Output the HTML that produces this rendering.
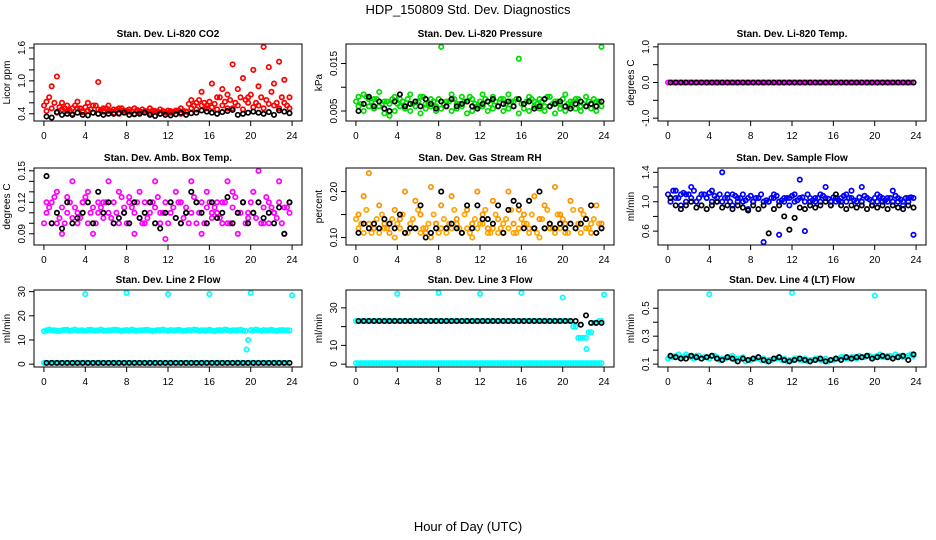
<!DOCTYPE html>
<html><head><meta charset="utf-8"><style>
body{margin:0;background:#fff;}
svg{display:block;font-family:"Liberation Sans",sans-serif;}
</style></head><body>
<svg id="c" width="936" height="540" viewBox="0 0 936 540">
<text x="468" y="14" text-anchor="middle" font-size="13">HDP_150809  Std. Dev. Diagnostics</text>
<text x="468" y="531" text-anchor="middle" font-size="13">Hour of Day (UTC)</text>
</svg>
<script>
const xTicks=[0,4,8,12,16,20,24];
// Panel 1 CO2
const co2Red=[.62,.9,1.08,.6,.55,.5,.62,.45,.6,.55,.98,.5,.55,.48,.5,.45,.48,.5,.45,.44,.5,.45,.48,.42,.45,.46,.5,.44,.65,.6,.8,.55,.95,.7,.85,.75,1.3,.85,1.05,.7,1.2,.9,1.62,1.25,.95,1.35,1.02,.7];
const co2Band=[.45,.5,.42,.48,.45,.4,.5,.43,.46,.42,.48,.44,.45,.42,.4,.46,.44,.4,.43,.45,.41,.44,.4,.43,.42,.45,.4,.44,.5,.48,.55,.5,.52,.48,.55,.5,.5,.55,.48,.6,.52,.55,.5,.58,.55,.5,.6,.5];
const co2Band2=[.55,.7,.6,.52,.5,.46,.55,.5,.52,.48,.55,.47,.5,.45,.47,.5,.46,.44,.47,.48,.45,.46,.44,.45,.46,.43,.46,.45,.58,.55,.65,.6,.62,.58,.7,.62,.65,.6,.7,.65,.75,.6,.7,.65,.8,.6,.7,.55];
const co2Black=[.35,.33,.43,.38,.4,.38,.42,.38,.37,.42,.4,.38,.4,.4,.41,.42,.38,.39,.4,.42,.38,.36,.4,.38,.37,.39,.42,.38,.41,.42,.46,.44,.42,.4,.43,.45,.47,.38,.4,.42,.44,.42,.4,.43,.38,.46,.44,.41];
// Panel 2 pressure
const presGreen=[.008,.0085,.006,.0075,.009,.007,.004,.008,.0075,.006,.0085,.007,.008,.0065,.0075,.006,.0185,.007,.0085,.0065,.008,.007,.0075,.006,.0085,.007,.008,.006,.0075,.0085,.007,.016,.0065,.008,.007,.0075,.006,.008,.007,.0065,.0085,.007,.0075,.006,.008,.0065,.007,.0185];
const presBand=[.006,.005,.0075,.0055,.006,.0045,.0065,.005,.006,.0055,.005,.006,.0045,.0055,.006,.005,.0055,.006,.005,.0055,.006,.0045,.005,.0055,.006,.005,.0055,.006,.005,.0055,.006,.0045,.0055,.005,.006,.0055,.005,.006,.0045,.0055,.005,.006,.0055,.005,.006,.0055,.005,.006];
const presBand2=[.007,.0065,.008,.007,.0075,.0065,.007,.0075,.0065,.007,.0075,.0065,.007,.008,.0065,.007,.0075,.0065,.007,.0075,.0065,.007,.008,.0065,.007,.0075,.0065,.007,.0075,.0065,.007,.0075,.0065,.007,.0075,.0065,.007,.008,.0065,.007,.0075,.0065,.007,.0075,.0065,.007,.0075,.007];
const presBlack=[.005,.0065,.008,.006,.007,.0055,.005,.007,.0085,.006,.0065,.007,.006,.0075,.0065,.0055,.007,.006,.0075,.006,.0065,.007,.006,.0055,.0065,.007,.0075,.006,.0065,.007,.006,.0075,.0065,.007,.0055,.006,.0075,.006,.0065,.007,.006,.0055,.0065,.007,.006,.0065,.006,.007];
// Panel 3 temp
const tempMag=[0,0,0,0,0,0,0,0,0,0,0,0,0,0,0,0,0,0,0,0,0,0,0,0,0,0,0,0,0,0,0,0,0,0,0,0,0,0,0,0,0,0,0,0,0,0,0,0];
const tempBlack=[0,0,0,0,0,0,0,0,0,0,0,0,0,0,0,0,0,0,0,0,0,0,0,0,0,0,0,0,0,0,0,0,0,0,0,0,0,0,0,0,0,0,0,0,0,0,0,0];
// Panel 4 amb temp
const ambMag=[.12,.1,.13,.09,.11,.14,.1,.12,.13,.09,.11,.12,.14,.1,.13,.11,.12,.09,.13,.1,.12,.14,.11,.085,.12,.13,.1,.11,.14,.12,.09,.13,.11,.12,.1,.14,.13,.09,.12,.11,.13,.15,.1,.12,.11,.14,.09,.12];
const ambBand=[.11,.12,.1,.115,.125,.105,.11,.12,.1,.115,.12,.105,.11,.12,.1,.115,.125,.11,.105,.12,.11,.115,.1,.12,.11,.105,.12,.115,.11,.1,.12,.115,.105,.11,.12,.1,.115,.11,.12,.105,.11,.12,.115,.1,.11,.12,.115,.11];
const ambBand2=[.1,.115,.125,.105,.1,.12,.115,.105,.125,.11,.1,.115,.12,.105,.11,.125,.1,.115,.12,.1,.105,.12,.125,.11,.1,.115,.12,.105,.1,.125,.11,.1,.12,.115,.105,.12,.1,.125,.11,.1,.12,.105,.1,.125,.115,.105,.1,.115];
const ambBlack=[.145,.1,.11,.095,.12,.1,.105,.11,.12,.1,.13,.11,.12,.1,.105,.11,.1,.12,.105,.11,.12,.1,.095,.11,.12,.105,.1,.11,.13,.12,.11,.1,.12,.105,.11,.125,.1,.11,.12,.1,.11,.12,.105,.11,.1,.115,.09,.12];
// Panel 5 RH
const rhOrange=[.15,.19,.24,.12,.17,.13,.11,.16,.14,.2,.12,.18,.15,.11,.21,.13,.17,.12,.19,.14,.11,.16,.13,.2,.15,.12,.18,.14,.11,.2,.13,.16,.15,.12,.19,.14,.17,.12,.21,.15,.13,.18,.12,.16,.14,.11,.17,.13];
const rhBand=[.12,.11,.13,.12,.11,.12,.13,.1,.12,.11,.13,.12,.11,.12,.1,.13,.12,.11,.12,.13,.11,.12,.1,.12,.13,.11,.12,.11,.13,.12,.11,.12,.13,.11,.12,.1,.12,.13,.11,.12,.11,.13,.12,.11,.12,.13,.11,.12];
const rhBand2=[.14,.13,.16,.11,.14,.15,.12,.14,.13,.15,.11,.14,.16,.12,.13,.15,.11,.14,.13,.16,.12,.15,.11,.14,.13,.16,.11,.15,.12,.14,.16,.11,.14,.13,.15,.11,.14,.16,.12,.15,.14,.11,.16,.13,.15,.12,.14,.13];
const rhBlack=[.11,.13,.12,.13,.12,.14,.13,.12,.15,.11,.12,.12,.17,.1,.11,.12,.2,.12,.13,.12,.11,.17,.12,.17,.14,.14,.13,.17,.11,.16,.18,.17,.12,.18,.12,.2,.12,.13,.12,.13,.12,.13,.12,.13,.14,.17,.11,.12];
// Panel 6 sample flow
const sfBlue=[1.05,1.15,.95,1.1,1.2,1.0,1.1,1.05,1.15,1.0,1.4,1.1,.95,1.05,1.1,.9,1.0,1.05,.45,1.0,1.1,.55,1.05,.95,1.1,1.3,.6,1.05,1.0,1.1,1.2,.95,1.05,1.0,1.1,1.15,1.0,1.2,1.05,.95,1.1,1.0,1.05,1.15,1.0,.95,1.05,.55];
const sfBand=[1.0,1.05,1.1,1.0,1.05,1.0,1.1,1.05,1.0,1.05,1.0,1.05,1.1,1.0,1.0,1.05,1.0,1.05,1.0,1.0,1.05,1.0,1.0,1.05,1.0,1.05,1.0,1.0,1.05,1.0,1.05,1.0,1.0,1.05,1.0,1.05,1.0,1.0,1.05,1.0,1.0,1.05,1.0,1.0,1.05,1.0,1.0,1.05];
const sfBand2=[1.1,1.15,1.05,1.12,1.1,1.15,1.05,1.1,1.12,1.08,1.1,1.05,1.0,1.08,1.05,1.02,1.08,1.05,1.1,1.02,1.05,1.08,1.02,1.05,1.08,1.02,1.06,1.1,1.02,1.05,1.08,1.04,1.06,1.02,1.08,1.05,1.02,1.06,1.08,1.03,1.05,1.07,1.02,1.05,1.08,1.03,1.05,1.06];
const sfBlack=[1.05,.95,.9,.95,1.0,.92,.95,.9,.95,1.0,.92,.95,.9,.95,.92,.88,.95,.9,.95,.57,.9,.95,.8,.62,.78,.92,.9,.95,.92,.95,1.0,.95,1.1,.95,.9,.95,.92,.95,.9,.95,.92,.95,.9,.95,.92,.9,.95,.92];
// Panel 7 line 2
const l2Cyan=[14,14,13.8,14,14.2,14,13.9,14,14.1,14,14,13.9,14,14.2,14,14,13.9,14,14,14.1,14,13.9,14,14,14.1,14,14,13.9,14,14.2,14,14,13.9,14,14,14.1,14,14,13.9,10,14,14,14.1,14,13.9,14,14,14];
const l2Band2=[13.6,14.3,14,13.7,14.2,13.8,14.3,14,13.7,14.2,13.9,14.3,13.8,14,14.2,13.7,14.1,14.3,13.8,14,14.2,13.7,14.1,14.3,13.8,14,14.2,13.7,14.1,14.3,13.8,14,14.2,13.7,14.1,14.3,13.8,14,14.2,13.7,14.1,14.3,13.8,14,14.2,13.7,14.1,14];
const l2Low=[.5,.5,.5,.5,.5,.5,.5,.5,.5,.5,.5,.5,.5,.5,.5,.5,.5,.5,.5,.5,.5,.5,.5,.5,.5,.5,.5,.5,.5,.5,.5,.5,.5,.5,.5,.5,.5,.5,.5,.5,.5,.5,.5,.5,.5,.5,.5,.5];
const l2SpikeHours=[4,8,12,16,19.6,20,24];
const l2Spikes=[29,29.5,29,29,6,29.5,28.5];
// Panel 8 line 3
const l3Cyan=[23,23,23,23,23,23,23,23,23,23,23,23,23,23,23,23,23,23,23,23,23,23,23,23,23,23,23,23,23,23,23,23,23,23,23,23,23,23,23,23,23,23,20,14,14,17,22,23];
const l3Black=[23,23,23,23,23,23,23,23,23,23,23,23,23,23,23,23,23,23,23,23,23,23,23,23,23,23,23,23,23,23,23,23,23,23,23,23,23,23,23,23,23,23,23,21,26,22,22,22];
const l3Low=[.5,.5,.5,.5,.5,.5,.5,.5,.5,.5,.5,.5,.5,.5,.5,.5,.5,.5,.5,.5,.5,.5,.5,.5,.5,.5,.5,.5,.5,.5,.5,.5,.5,.5,.5,.5,.5,.5,.5,.5,.5,.5,.5,.5,.5,.5,.5,.5];
const l3SpikeHours=[4,8,12,16,20,22.3,24];
const l3Spikes=[37.5,38,37.5,38,35.5,8,37];
// Panel 9 line 4
const l4Cyan=[.15,.16,.15,.17,.15,.16,.14,.15,.16,.15,.14,.15,.16,.14,.15,.13,.14,.15,.14,.13,.14,.15,.14,.13,.14,.13,.14,.13,.14,.13,.14,.13,.14,.15,.14,.15,.14,.15,.16,.15,.16,.15,.16,.15,.16,.15,.16,.16];
const l4Band2=[.14,.15,.17,.15,.16,.14,.16,.15,.14,.16,.13,.14,.15,.13,.14,.12,.13,.14,.13,.12,.13,.14,.13,.12,.13,.14,.13,.12,.13,.14,.13,.12,.13,.14,.15,.14,.15,.16,.15,.16,.15,.17,.15,.16,.17,.16,.15,.17];
const l4Black=[.16,.15,.14,.14,.16,.15,.14,.15,.16,.14,.13,.15,.14,.12,.14,.13,.14,.15,.13,.12,.14,.15,.13,.12,.13,.14,.13,.12,.13,.14,.12,.13,.14,.13,.15,.14,.15,.15,.16,.14,.15,.16,.15,.14,.15,.16,.13,.17];
const l4SpikeHours=[4,12,20];
const l4Spikes=[.6,.61,.59];

const svg=document.getElementById('c');
const NS='http://www.w3.org/2000/svg';
function mk(tag,attrs,parent){const e=document.createElementNS(NS,tag);for(const k in attrs)e.setAttribute(k,attrs[k]);(parent||svg).appendChild(e);return e;}
function halfHours(n){const h=[];for(let i=0;i<n;i++)h.push((i+0.5)*24/n);return h;}
function gridHours(n){const h=[];for(let i=0;i<n;i++)h.push((i+0.02)*24/n);return h;}
const G=gridHours(48);

const panels=[
 {title:'Stan. Dev. Li-820 CO2',yl:'Licor ppm',lo:.32,hi:1.62,ticks:[.4,.6,.8,1.0,1.2,1.4,1.6],labels:[.4,1.0,1.6],fmt:1,
  series:[[co2Band2,G,'#ff0000'],[co2Band,null,'#ff0000'],[co2Red,null,'#ff0000'],[co2Black,null,'#000']]},
 {title:'Stan. Dev. Li-820 Pressure',yl:'kPa',lo:.0035,hi:.0185,ticks:[.005,.01,.015],labels:[.005,.015],fmt:3,
  series:[[presBand2,G,'#00dd00'],[presBand,null,'#00dd00'],[presGreen,null,'#00dd00'],[presBlack,null,'#000']]},
 {title:'Stan. Dev. Li-820 Temp.',yl:'degrees C',lo:-1,hi:1,ticks:[-1,-.5,0,.5,1],labels:[-1,0,1],fmt:1,
  series:[[tempMag,G,'#ff00ff'],[tempMag,null,'#ff00ff'],[tempBlack,null,'#000']]},
 {title:'Stan. Dev. Amb. Box Temp.',yl:'degrees C',lo:.082,hi:.15,ticks:[.09,.1,.11,.12,.13,.14,.15],labels:[.09,.12,.15],fmt:2,
  series:[[ambBand2,G,'#ff00ff'],[ambBand,null,'#ff00ff'],[ambMag,null,'#ff00ff'],[ambBlack,null,'#000']]},
 {title:'Stan. Dev. Gas Stream RH',yl:'percent',lo:.09,hi:.245,ticks:[.1,.15,.2],labels:[.1,.2],fmt:2,
  series:[[rhBand2,G,'#ffa500'],[rhBand,null,'#ffa500'],[rhOrange,null,'#ff9000'],[rhBlack,null,'#000']]},
 {title:'Stan. Dev. Sample Flow',yl:'ml/min',lo:.45,hi:1.42,ticks:[.6,.8,1.0,1.2,1.4],labels:[.6,1.0,1.4],fmt:1,
  series:[[sfBand2,G,'#0000ff'],[sfBand,null,'#0000ff'],[sfBlue,null,'#0000ff'],[sfBlack,null,'#000']]},
 {title:'Stan. Dev. Line 2 Flow',yl:'ml/min',lo:0,hi:29.5,ticks:[0,10,20,30],labels:[0,10,20,30],fmt:0,
  series:[[l2Band2,G,'#00ffff'],[l2Cyan,null,'#00ffff'],[l2Spikes,l2SpikeHours,'#00ffff'],[l2Low,G,'#00ffff'],[l2Low,null,'#000']]},
 {title:'Stan. Dev. Line 3 Flow',yl:'ml/min',lo:0,hi:38,ticks:[0,10,20,30],labels:[0,10,30],fmt:0,
  series:[[l3Cyan,G,'#00ffff'],[l3Cyan,null,'#00ffff'],[l3Spikes,l3SpikeHours,'#00ffff'],[l3Low,G,'#00ffff'],[l3Low,null,'#00ffff'],[l3Black,null,'#000']]},
 {title:'Stan. Dev. Line 4 (LT) Flow',yl:'ml/min',lo:.1,hi:.61,ticks:[.1,.2,.3,.4,.5],labels:[.1,.3,.5],fmt:1,
  series:[[l4Band2,G,'#00ffff'],[l4Cyan,null,'#00ffff'],[l4Spikes,l4SpikeHours,'#00ffff'],[l4Black,null,'#000']]}
];

panels.forEach((p,idx)=>{
 const col=idx%3,row=Math.floor(idx/3);
 const L=34+312*col,R=L+268,T=[44,168,290][row],B=T+77;
 const g=mk('g',{});
 
 
 const xs=h=>L+(R-L)*(h+0.96)/25.92;
 const pad=(p.hi-p.lo)*0.04;
 const ys=v=>B-(B-T)*(v-p.lo+pad)/(p.hi-p.lo+2*pad);
 const t=mk('text',{x:(L+R)/2,y:T-7,'text-anchor':'middle','font-size':10,'font-weight':'bold'},g);
 t.textContent=p.title;
 
 
 const pts=mk('g',{},g);
 p.series.forEach(s=>{
  const vals=s[0],hrs=s[1]||halfHours(vals.length);
  vals.forEach((v,i)=>{
   const c=mk('circle',{cx:xs(hrs[i]).toFixed(1),cy:ys(v).toFixed(1),r:2.2,fill:'none',stroke:s[2],'stroke-width':1.7},pts);
   
   
  });
 });
 const box=mk('rect',{x:L,y:T,width:R-L,height:B-T,fill:'none',stroke:'#000','stroke-width':1},g);
 
 
 mk('line',{x1:xs(0),x2:xs(24),y1:B,y2:B,stroke:'#000'},g);
 xTicks.forEach(h=>{
  mk('line',{x1:xs(h),x2:xs(h),y1:B,y2:B+5,stroke:'#000'},g);
  const tl=mk('text',{x:xs(h),y:B+18,'text-anchor':'middle','font-size':10},g);
  tl.textContent=h;
  
  
 });
 const y0=ys(p.ticks[0]),y1=ys(p.ticks[p.ticks.length-1]);
 mk('line',{x1:L,x2:L,y1:y0,y2:y1,stroke:'#000'},g);
 p.ticks.forEach(v=>mk('line',{x1:L-5,x2:L,y1:ys(v),y2:ys(v),stroke:'#000'},g));
 p.labels.forEach(v=>{
  const yy=ys(v);
  const tl=mk('text',{x:L-9,y:yy,'text-anchor':'middle','font-size':10,transform:`rotate(-90 ${L-9} ${yy})`},g);
  tl.textContent=v.toFixed(p.fmt);
  
  
 });
 const ym=(T+B)/2;
 const yt=mk('text',{x:L-24,y:ym,'text-anchor':'middle','font-size':10,transform:`rotate(-90 ${L-24} ${ym})`},g);
 yt.textContent=p.yl;
 
 
});
</script>
</body></html>
